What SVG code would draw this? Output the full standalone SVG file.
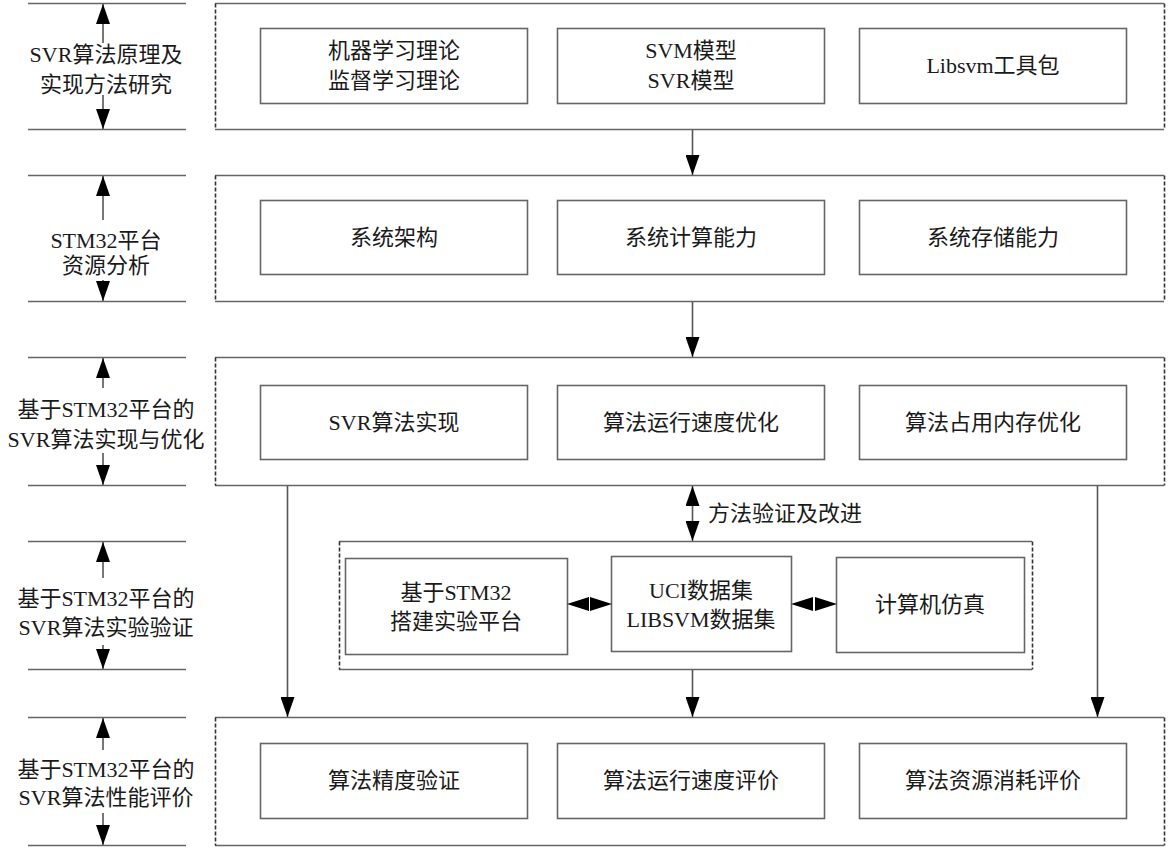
<svg xmlns="http://www.w3.org/2000/svg" width="1173" height="852" viewBox="0 0 1173 852">
<defs>
<marker id="ah" viewBox="0 -7 20 14" refX="20" refY="0" markerWidth="20" markerHeight="14" markerUnits="userSpaceOnUse" orient="auto-start-reverse">
<path d="M0,-7 L20,0 L0,7 z" fill="#000"/>
</marker>
<marker id="ahs" viewBox="0 -7 22 14" refX="22" refY="0" markerWidth="22" markerHeight="14" markerUnits="userSpaceOnUse" orient="auto-start-reverse">
<path d="M0,-7 L22,0 L0,7 z" fill="#000"/>
</marker>
</defs>
<style>
text{font-family:"Liberation Serif","Noto Sans CJK SC",serif;font-size:22px;fill:#1a1a1a;text-anchor:middle}
.box{fill:#fff;stroke:#666;stroke-width:1.6}
.solid{stroke:#666;stroke-width:1.6;fill:none}
.dash{stroke:#333;stroke-width:1.6;stroke-dasharray:4 2;fill:none}
.hl{stroke:#666;stroke-width:1.6}
.ar{stroke:#555;stroke-width:1.6;fill:none;marker-end:url(#ah)}
.dar{stroke:#555;stroke-width:1.6;fill:none;marker-start:url(#ah);marker-end:url(#ah)}
</style>
<rect width="1173" height="852" fill="#fff"/>

<g id="left-column">
<g id="label1">
<line class="hl" x1="28" y1="3.5" x2="186" y2="3.5"/>
<line class="hl" x1="28" y1="129.5" x2="186" y2="129.5"/>
<line class="ar" x1="103" y1="43" x2="103" y2="4"/>
<line class="ar" x1="103" y1="95" x2="103" y2="129"/>
<text x="106" y="62">SVR算法原理及</text>
<text x="106" y="92">实现方法研究</text>
</g>
<g id="label2">
<line class="hl" x1="28" y1="175.5" x2="186" y2="175.5"/>
<line class="hl" x1="28" y1="301.5" x2="186" y2="301.5"/>
<line class="ar" x1="103" y1="220" x2="103" y2="176"/>
<line class="ar" x1="103" y1="280" x2="103" y2="301"/>
<text x="106" y="248">STM32平台</text>
<text x="106" y="273">资源分析</text>
</g>
<g id="label3">
<line class="hl" x1="28" y1="357.5" x2="186" y2="357.5"/>
<line class="hl" x1="28" y1="485.5" x2="186" y2="485.5"/>
<line class="ar" x1="103" y1="388" x2="103" y2="358"/>
<line class="ar" x1="103" y1="453" x2="103" y2="485"/>
<text x="106" y="417">基于STM32平台的</text>
<text x="106" y="447">SVR算法实现与优化</text>
</g>
<g id="label4">
<line class="hl" x1="28" y1="541.5" x2="186" y2="541.5"/>
<line class="hl" x1="28" y1="669.5" x2="186" y2="669.5"/>
<line class="ar" x1="103" y1="578" x2="103" y2="542"/>
<line class="ar" x1="103" y1="645" x2="103" y2="669"/>
<text x="106" y="606">基于STM32平台的</text>
<text x="106" y="635">SVR算法实验验证</text>
</g>
<g id="label5">
<line class="hl" x1="28" y1="717.5" x2="186" y2="717.5"/>
<line class="hl" x1="28" y1="845.5" x2="186" y2="845.5"/>
<line class="ar" x1="103" y1="750" x2="103" y2="718"/>
<line class="ar" x1="103" y1="813" x2="103" y2="845"/>
<text x="106" y="777">基于STM32平台的</text>
<text x="106" y="805">SVR算法性能评价</text>
</g>
</g>

<g id="stage1">
<path class="solid" d="M215,3.5 H1164 M215,129.5 H1164"/>
<path class="dash" d="M215.5,3.5 V129.5 M1164.5,3.5 V129.5"/>
<g id="n1a"><rect class="box" x="260.5" y="28.5" width="267" height="75"/><text x="394" y="58">机器学习理论</text><text x="394" y="88">监督学习理论</text></g>
<g id="n1b"><rect class="box" x="557.5" y="28.5" width="267" height="75"/><text x="691" y="58">SVM模型</text><text x="691" y="88">SVR模型</text></g>
<g id="n1c"><rect class="box" x="859.5" y="28.5" width="267" height="75"/><text x="993" y="73">Libsvm工具包</text></g>
</g>

<g id="stage2">
<path class="solid" d="M215,175.5 H1164 M215,301.5 H1164"/>
<path class="dash" d="M215.5,175.5 V301.5 M1164.5,175.5 V301.5"/>
<g id="n2a"><rect class="box" x="260.5" y="200.5" width="267" height="74"/><text x="394" y="245">系统架构</text></g>
<g id="n2b"><rect class="box" x="557.5" y="200.5" width="267" height="74"/><text x="691" y="245">系统计算能力</text></g>
<g id="n2c"><rect class="box" x="859.5" y="200.5" width="267" height="74"/><text x="993" y="245">系统存储能力</text></g>
</g>

<g id="stage3">
<path class="solid" d="M215,357.5 H1164 M215,485.5 H1164"/>
<path class="dash" d="M215.5,357.5 V485.5 M1164.5,357.5 V485.5"/>
<g id="n3a"><rect class="box" x="260.5" y="385.5" width="267" height="74"/><text x="394" y="430">SVR算法实现</text></g>
<g id="n3b"><rect class="box" x="557.5" y="385.5" width="267" height="74"/><text x="691" y="430">算法运行速度优化</text></g>
<g id="n3c"><rect class="box" x="859.5" y="385.5" width="267" height="74"/><text x="993" y="430">算法占用内存优化</text></g>
</g>

<g id="stage4">
<path class="solid" d="M339,541.5 H1032 M339,669.5 H1032"/>
<path class="dash" d="M339.5,541.5 V669.5 M1032.5,541.5 V669.5"/>
<g id="n4a"><rect class="box" x="345.5" y="558.5" width="222" height="96"/><text x="456" y="600">基于STM32</text><text x="456" y="629">搭建实验平台</text></g>
<g id="n4b"><rect class="box" x="611.5" y="556.5" width="180" height="95"/><text x="701" y="598">UCI数据集</text><text x="701" y="627">LIBSVM数据集</text></g>
<g id="n4c"><rect class="box" x="836.5" y="557.5" width="188" height="95"/><text x="930" y="612">计算机仿真</text></g>
</g>

<g id="stage5">
<path class="solid" d="M215,717.5 H1164 M215,845.5 H1164"/>
<path class="dash" d="M215.5,717.5 V845.5 M1164.5,717.5 V845.5"/>
<g id="n5a"><rect class="box" x="260.5" y="743.5" width="267" height="75"/><text x="394" y="788">算法精度验证</text></g>
<g id="n5b"><rect class="box" x="557.5" y="743.5" width="267" height="75"/><text x="691" y="788">算法运行速度评价</text></g>
<g id="n5c"><rect class="box" x="859.5" y="743.5" width="267" height="75"/><text x="993" y="788">算法资源消耗评价</text></g>
</g>

<g id="connectors">
<line class="ar" x1="692.5" y1="130" x2="692.5" y2="175"/>
<line class="ar" x1="692.5" y1="302" x2="692.5" y2="357"/>
<line class="dar" x1="692.5" y1="486" x2="692.5" y2="541"/>
<text x="708" y="521" style="text-anchor:start">方法验证及改进</text>
<line class="ar" x1="692.5" y1="670" x2="692.5" y2="717"/>
<line class="ar" x1="287.5" y1="486" x2="287.5" y2="717"/>
<line class="ar" x1="1097.5" y1="486" x2="1097.5" y2="717"/>
<path d="M567,604 L589,597 L589,611 z M612,604 L590,597 L590,611 z" fill="#000"/>
<path d="M791,604 L813,597 L813,611 z M837,604 L815,597 L815,611 z" fill="#000"/>
</g>
</svg>
